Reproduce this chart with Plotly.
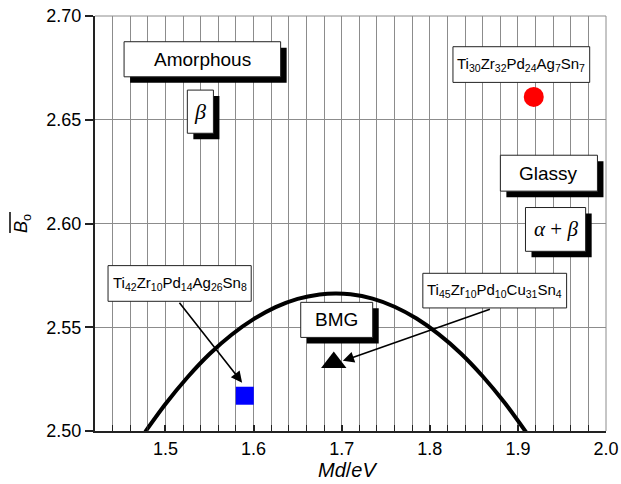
import plotly.graph_objects as go

# Curve (Md vs B0 boundary)
curve_x = [1.477, 1.500, 1.525, 1.550, 1.575, 1.600, 1.625, 1.650, 1.675, 1.693,
           1.710, 1.735, 1.760, 1.785, 1.810, 1.835, 1.860, 1.885, 1.910]
curve_y = [2.4996, 2.5130, 2.5259, 2.5371, 2.5464, 2.5539, 2.5597, 2.5637, 2.5658, 2.5663,
           2.5659, 2.5638, 2.5599, 2.5542, 2.5467, 2.5375, 2.5264, 2.5136, 2.4990]

# Alloy points
pt_x = [1.590, 1.691, 1.918]
pt_y = [2.517, 2.533, 2.661]
pt_symbols = ["square", "triangle-up", "circle"]
pt_colors = ["#0000ff", "#000000", "#ff0000"]

x_range = [1.42, 2.0]
y_range = [2.50, 2.70]

FONT = "Liberation Sans, Arial, Helvetica, sans-serif"
SERIF = "Liberation Serif, Times New Roman, serif"

fig = go.Figure()
fig.add_trace(go.Scatter(x=curve_x, y=curve_y, mode="lines",
                         line=dict(color="black", width=4, shape="spline", smoothing=0.8),
                         hoverinfo="skip", showlegend=False))
fig.add_trace(go.Scatter(x=pt_x, y=pt_y, mode="markers",
                         marker=dict(symbol=pt_symbols, color=pt_colors, opacity=1,
                                     size=[18, 22, 20], line=dict(width=0)),
                         showlegend=False))

# label boxes: (text, x0, x1, y0, y1, shadow, font family, size)
labels = [
    ("Amorphous", 1.453, 1.6307, 2.6707, 2.6876, True, FONT, 19),
    ("<i>β</i>", 1.5248, 1.5544, 2.6435, 2.6643, True, SERIF, 22),
    ("Ti<sub>30</sub>Zr<sub>32</sub>Pd<sub>24</sub>Ag<sub>7</sub>Sn<sub>7</sub>",
     1.8263, 1.9815, 2.668, 2.6852, False, FONT, 15),
    ("Glassy", 1.8801, 1.9903, 2.6156, 2.6329, True, FONT, 19),
    ("<i>α</i> + <i>β</i>", 1.9086, 1.9769, 2.5866, 2.6077, True, SERIF, 21),
    ("Ti<sub>42</sub>Zr<sub>10</sub>Pd<sub>14</sub>Ag<sub>26</sub>Sn<sub>8</sub>",
     1.4348, 1.5973, 2.5625, 2.5797, False, FONT, 15),
    ("BMG", 1.6535, 1.7352, 2.5451, 2.5620, True, FONT, 19),
    ("Ti<sub>45</sub>Zr<sub>10</sub>Pd<sub>10</sub>Cu<sub>31</sub>Sn<sub>4</sub>",
     1.7921, 1.9553, 2.5593, 2.5760, False, FONT, 15),
]
sdx, sdy = 6 / 878, 6 / 2070
shapes = []
annotations = []
for text, x0, x1, y0, y1, shadow, fam, size in labels:
    if shadow:
        shapes.append(dict(type="rect", xref="x", yref="y", layer="above",
                           x0=x0 + sdx, x1=x1 + sdx, y0=y0 - sdy, y1=y1 - sdy,
                           fillcolor="black", line=dict(width=0)))
    shapes.append(dict(type="rect", xref="x", yref="y", layer="above",
                       x0=x0, x1=x1, y0=y0, y1=y1,
                       fillcolor="white", line=dict(color="#222", width=1)))
    annotations.append(dict(x=(x0 + x1) / 2, y=(y0 + y1) / 2, xref="x", yref="y",
                            text=text, showarrow=False, xanchor="center",
                            yanchor="middle", font=dict(family=fam, size=size, color="black")))

# arrows from labels to points
arrows = [((1.5145, 2.5625), (1.587, 2.5233)),
          ((1.8699, 2.5589), (1.7013, 2.5338))]
for (tx, ty), (hx, hy) in arrows:
    annotations.append(dict(x=hx, y=hy, ax=tx, ay=ty, xref="x", yref="y",
                            axref="x", ayref="y", text="", showarrow=True,
                            arrowhead=2, arrowsize=1.4, arrowwidth=1.6,
                            arrowcolor="black", standoff=0))

# borders top / right
shapes.append(dict(type="line", xref="paper", yref="paper", x0=0, x1=1, y0=1, y1=1,
                   line=dict(color="#8c8c8c", width=1), layer="below"))
shapes.append(dict(type="line", xref="paper", yref="paper", x0=1, x1=1, y0=0, y1=1,
                   line=dict(color="#8c8c8c", width=1), layer="below"))
# overline of the y title
shapes.append(dict(type="line", xref="paper", yref="paper",
                   x0=(10 - 95) / 511, x1=(10 - 95) / 511,
                   y0=(431 - 233) / 415, y1=(431 - 212) / 415,
                   line=dict(color="black", width=1.5)))

annotations.append(dict(xref="paper", yref="paper", x=(347 - 95) / 511, y=(431 - 470) / 415,
                        text="<i>Md</i>/<i>eV</i>", showarrow=False, xanchor="center",
                        yanchor="middle", font=dict(family=FONT, size=20, color="black")))
annotations.append(dict(xref="paper", yref="paper", x=(23 - 95) / 511, y=(431 - 224) / 415,
                        text="<i>B</i><sub>o</sub>", showarrow=False, textangle=-90,
                        xanchor="center", yanchor="middle",
                        font=dict(family=FONT, size=18, color="black")))

fig.update_layout(
    width=621, height=484,
    margin=dict(l=95, r=15, t=16, b=53),
    paper_bgcolor="white", plot_bgcolor="white",
    font=dict(family=FONT, size=18, color="black"),
    shapes=shapes, annotations=annotations,
    xaxis=dict(range=x_range, tick0=1.5, dtick=0.1, tickformat=".1f", automargin=False,
               ticks="inside", ticklen=6, tickcolor="#222", tickwidth=1.5,
               showline=True, linecolor="#222", linewidth=2,
               showgrid=True, gridcolor="#8c8c8c", gridwidth=1, zeroline=False,
               minor=dict(tick0=1.42, dtick=0.02, ticks="inside", ticklen=6,
                          tickcolor="#222", tickwidth=1.2, showgrid=True,
                          gridcolor="#8c8c8c", gridwidth=1),
               tickfont=dict(size=18)),
    yaxis=dict(range=y_range, tick0=2.5, dtick=0.05, tickformat=".2f", automargin=False,
               ticks="outside", ticklen=8, tickcolor="#222", tickwidth=1.5,
               showline=True, linecolor="#222", linewidth=2,
               showgrid=True, gridcolor="#8c8c8c", gridwidth=1, zeroline=False,
               tickfont=dict(size=18)),
)

fig.write_html("out.html")
